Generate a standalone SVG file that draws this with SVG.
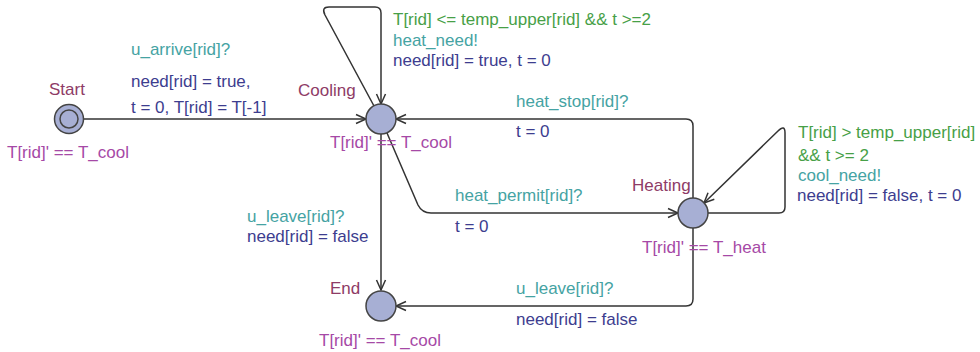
<svg xmlns="http://www.w3.org/2000/svg" width="980" height="352" viewBox="0 0 980 352">
<defs>
<marker id="arr" markerUnits="userSpaceOnUse" markerWidth="14" markerHeight="14" viewBox="-11 -7 14 14" refX="0" refY="0" orient="auto">
<path d="M-10,-4.5 L0,0 L-10,4.5" fill="none" stroke="#333" stroke-width="1.5"/>
</marker>
<style>
text{font-family:"Liberation Sans",Arial,sans-serif;font-size:17px}
.nm{fill:#8e3b66}
.inv{fill:#a649a6}
.sy{fill:#45a3a3}
.as{fill:#3d3d8f}
.gd{fill:#47a047}
.node{fill:#a7afd4;stroke:#444;stroke-width:1.5}
.edge{fill:none;stroke:#333;stroke-width:1.5;marker-end:url(#arr)}
</style>
</defs>
<rect width="980" height="352" fill="#fff"/>
<g id="connectors">
<path class="edge" d="M84,119 L366,119"/>
<path class="edge" d="M374,106 L325,15 Q321,7 329,7 L375,7 Q381,7 381,13 L381,104"/>
<path class="edge" d="M387,133 L418,205 Q422,213 431,213 L678,213"/>
<path class="edge" d="M693,198 L693,126 Q693,119 686,119 L396,119"/>
<path class="edge" d="M708,213 L779,213 Q785,213 785,207 L785,133 Q785,124 778,131 L704,203"/>
<path class="edge" d="M693,228 L693,299 Q693,306 686,306 L396,306"/>
<path class="edge" d="M381,134 L381,290"/>
</g>
<g id="edge-labels">
<text class="sy" x="131" y="55">u_arrive[rid]?</text>
<text class="as" x="131" y="87">need[rid] = true,</text>
<text class="as" x="131" y="113">t = 0, T[rid] = T[-1]</text>
<text class="gd" x="393" y="25">T[rid] &lt;= temp_upper[rid] &amp;&amp; t &gt;=2</text>
<text class="sy" x="393" y="46">heat_need!</text>
<text class="as" x="393" y="66">need[rid] = true, t = 0</text>
<text class="sy" x="516" y="107">heat_stop[rid]?</text>
<text class="as" x="516" y="137">t = 0</text>
<text class="gd" x="798" y="138">T[rid] &gt; temp_upper[rid]</text>
<text class="gd" x="798" y="161">&amp;&amp; t &gt;= 2</text>
<text class="sy" x="798" y="181">cool_need!</text>
<text class="as" x="797" y="201">need[rid] = false, t = 0</text>
<text class="sy" x="455" y="201">heat_permit[rid]?</text>
<text class="as" x="455" y="232">t = 0</text>
<text class="sy" x="247" y="222">u_leave[rid]?</text>
<text class="as" x="247" y="242">need[rid] = false</text>
<text class="sy" x="516" y="294">u_leave[rid]?</text>
<text class="as" x="516" y="325">need[rid] = false</text>
</g>
<g id="Start">
<circle class="node" cx="69" cy="119" r="14.5"/>
<circle class="node" cx="69" cy="119" r="9"/>
<text class="nm" x="49" y="95">Start</text>
<text class="inv" x="7" y="158">T[rid]' == T_cool</text>
</g>
<g id="Cooling">
<circle class="node" cx="381" cy="119" r="15"/>
<text class="nm" x="298" y="96">Cooling</text>
<text class="inv" x="330" y="148">T[rid]' == T_cool</text>
</g>
<g id="Heating">
<circle class="node" cx="693" cy="213" r="15"/>
<text class="nm" x="632" y="191">Heating</text>
<text class="inv" x="642" y="253">T[rid]' == T_heat</text>
</g>
<g id="End">
<circle class="node" cx="381" cy="306" r="15"/>
<text class="nm" x="330" y="294">End</text>
<text class="inv" x="319" y="346">T[rid]' == T_cool</text>
</g>
</svg>
